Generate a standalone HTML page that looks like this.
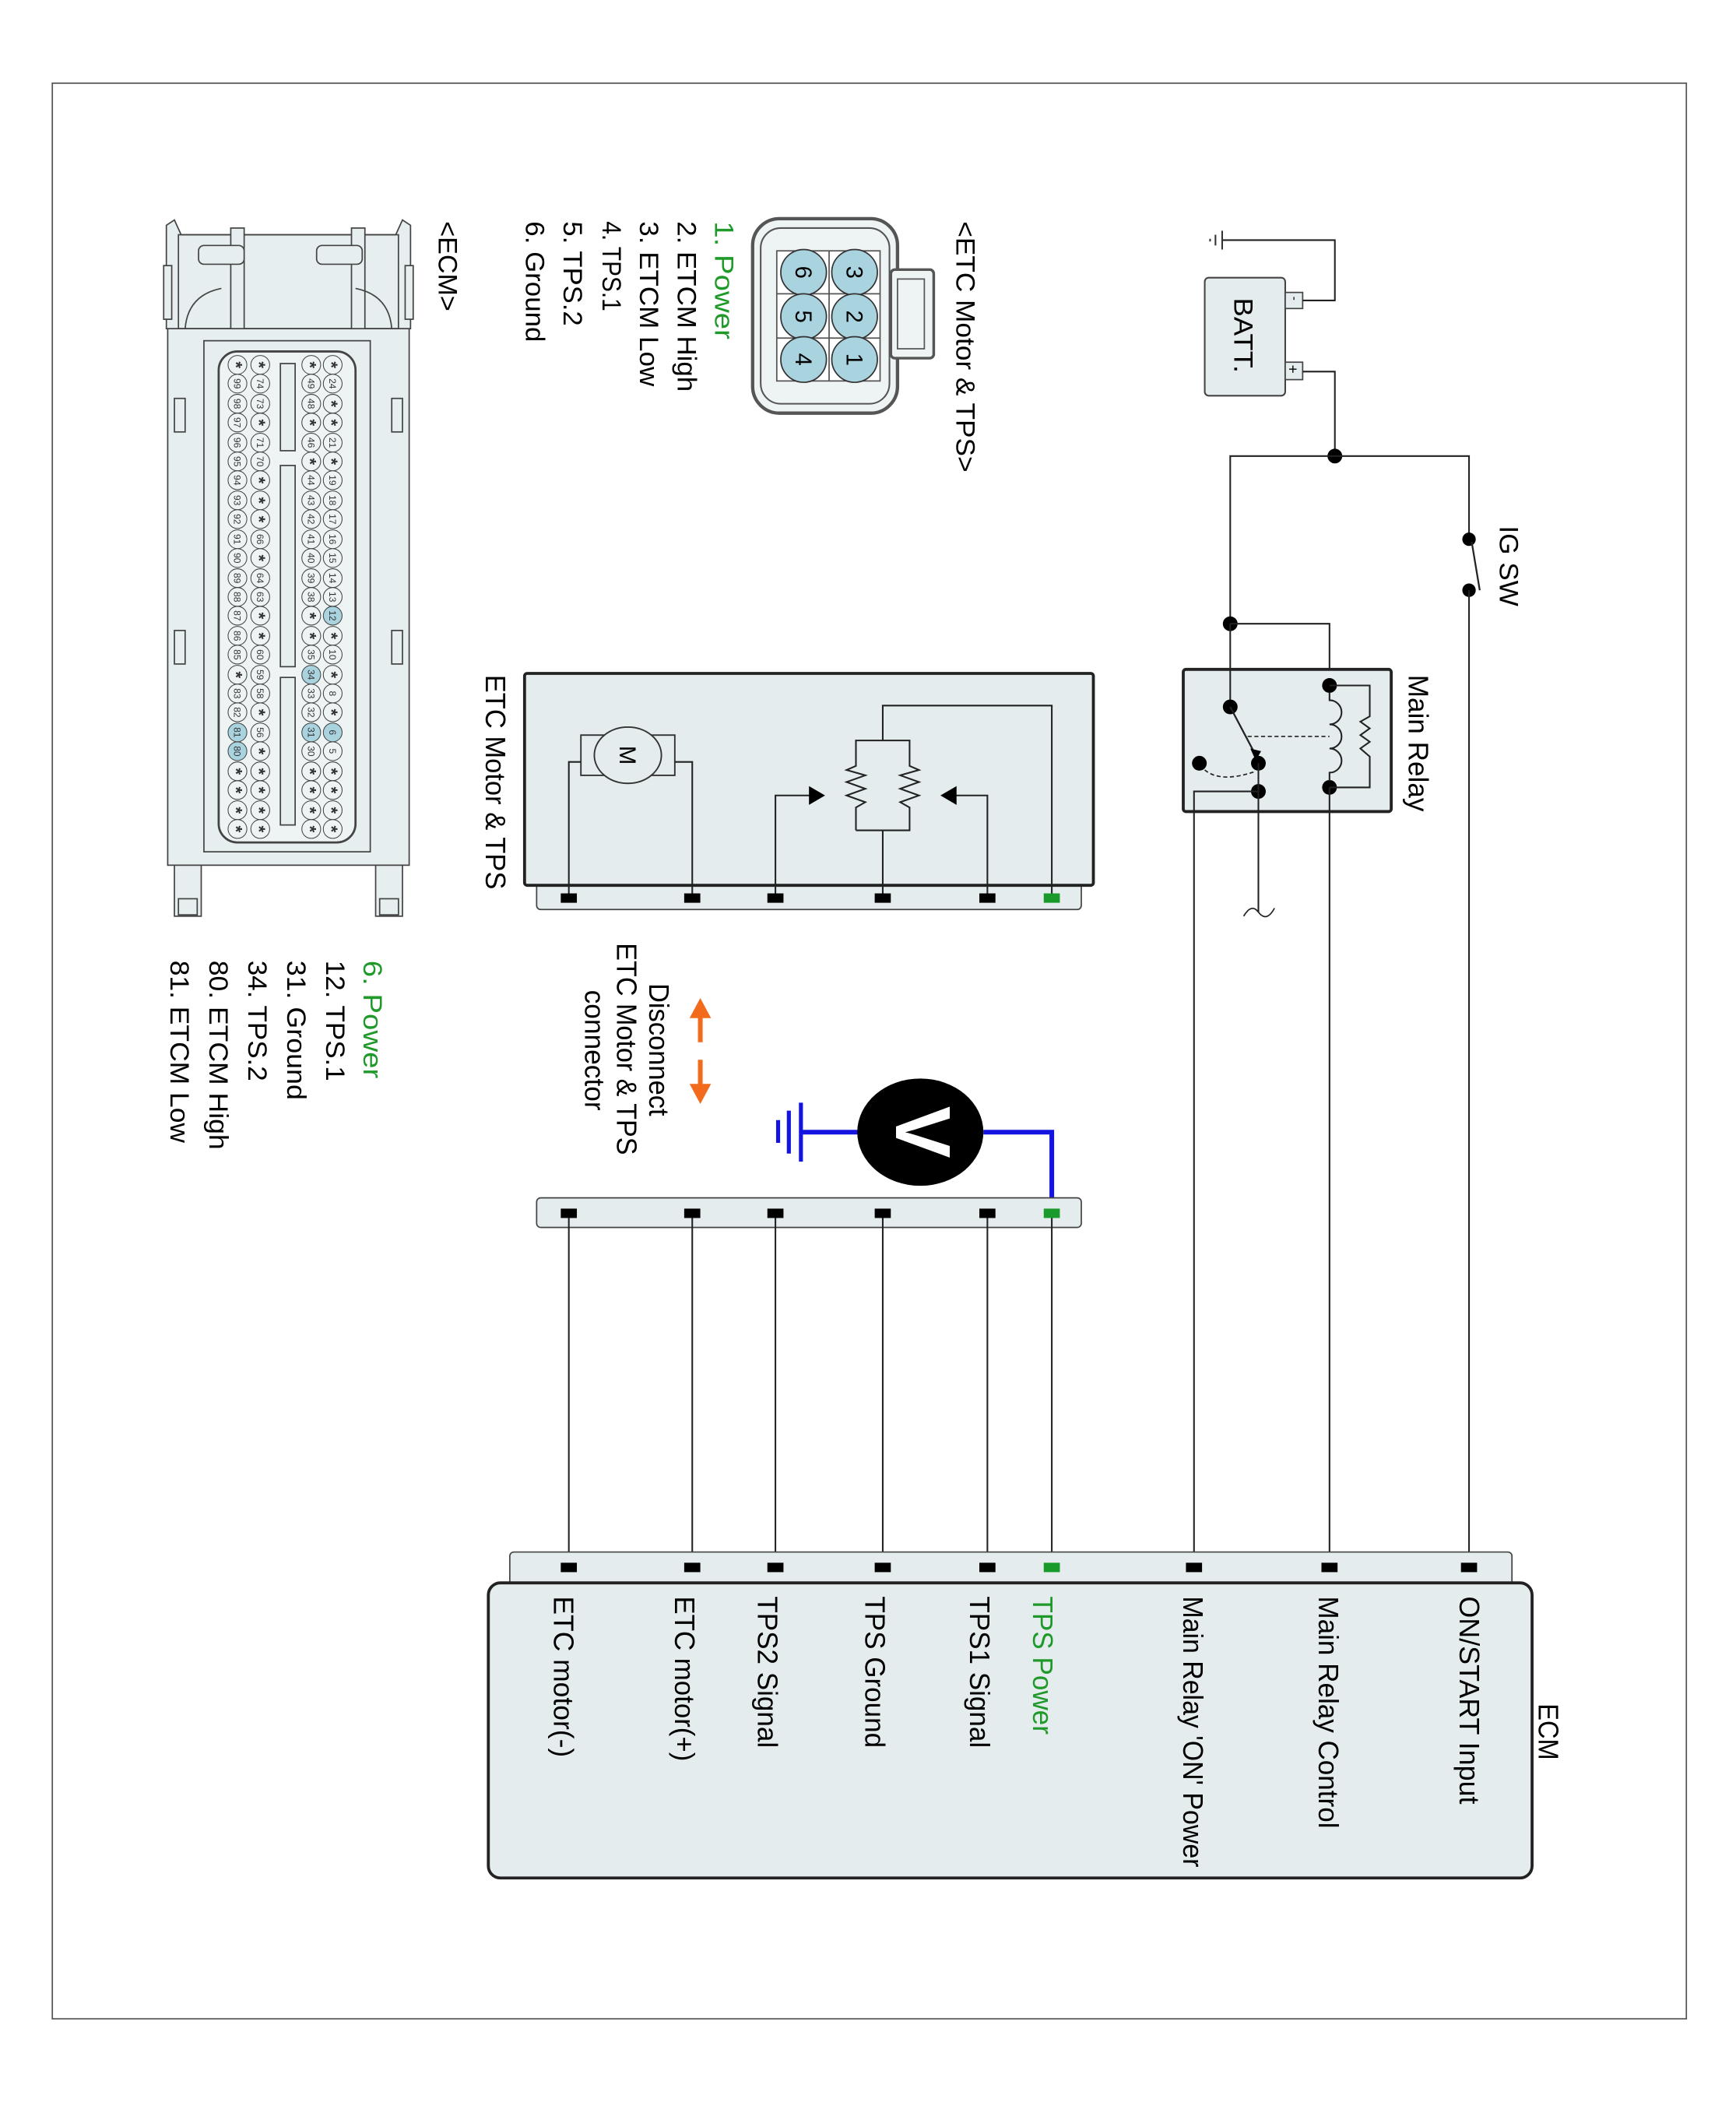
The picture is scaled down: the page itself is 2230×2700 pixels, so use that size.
<!DOCTYPE html>
<html><head><meta charset="utf-8"><style>
html,body{margin:0;padding:0;background:#fff;}
svg{display:block;}
text{font-family:"Liberation Sans",sans-serif;}
.w{stroke:#222;stroke-width:1.2;fill:none;}
.pin circle{fill:#eef3f4;stroke:#444;stroke-width:0.6;}
.pin text{font-size:7px;text-anchor:middle;fill:#333;}
.pin text.s{font-size:13px;font-weight:bold;}
.pin .b{fill:#a9d3df;}
</style></head><body>
<svg width="2230" height="2700" viewBox="0 0 1294 1567" preserveAspectRatio="none" xmlns="http://www.w3.org/2000/svg">
<rect x="0" y="0" width="1294" height="1567" fill="#fff"/>
<rect x="39" y="62" width="1218" height="1443" fill="none" stroke="#555" stroke-width="1"/>

<!-- Battery -->
<rect x="898" y="207" width="60" height="88" rx="3" fill="#e4ecee" stroke="#444" stroke-width="1.2"/>
<text transform="translate(920,222) rotate(90)" font-size="20" textLength="56" lengthAdjust="spacingAndGlyphs">BATT.</text>
<rect x="958" y="218" width="13" height="12" fill="#e4ecee" stroke="#444" stroke-width="1"/>
<text transform="translate(962,221) rotate(90)" font-size="9">-</text>
<rect x="958" y="270" width="13" height="13" fill="#e4ecee" stroke="#444" stroke-width="1"/>
<text transform="translate(960,272) rotate(90)" font-size="11">+</text>
<polyline class="w" points="971,224 995,224 995,179 911,179"/>
<line x1="911" y1="172" x2="911" y2="186" stroke="#333" stroke-width="1.2"/>
<line x1="906" y1="175" x2="906" y2="183" stroke="#333" stroke-width="1.2"/>
<line x1="902" y1="178" x2="902" y2="180" stroke="#333" stroke-width="1.2"/>
<polyline class="w" points="971,277 995,277 995,340"/>
<circle cx="995" cy="340" r="5.5" fill="#000"/>
<polyline class="w" points="917,465 917,340 1095,340 1095,402"/>
<circle cx="1095" cy="402" r="5" fill="#000"/>
<circle cx="1095" cy="440" r="5" fill="#000"/>
<line x1="1097" y1="404" x2="1103" y2="440" stroke="#222" stroke-width="1.3"/>
<line class="w" x1="1095" y1="440" x2="1095" y2="1168"/>
<text transform="translate(1118,392) rotate(90)" font-size="20" textLength="60" lengthAdjust="spacingAndGlyphs">IG SW</text>
<circle cx="917" cy="465" r="5.5" fill="#000"/>
<polyline class="w" points="917,465 991,465 991,511"/>

<!-- Relay -->
<rect x="882" y="499" width="155" height="106" fill="#e4ecee" stroke="#222" stroke-width="2.2" rx="2"/>
<text transform="translate(1050,503) rotate(90)" font-size="21" textLength="102" lengthAdjust="spacingAndGlyphs">Main Relay</text>
<line class="w" x1="917" y1="465" x2="917" y2="527"/>
<circle cx="917" cy="527" r="5.5" fill="#000"/>
<line x1="917" y1="527" x2="936" y2="563" stroke="#222" stroke-width="1.3"/>
<polygon points="932,558 940,560 936,567" fill="#000"/>
<circle cx="938" cy="569" r="5.5" fill="#000"/>
<circle cx="938" cy="590" r="5.5" fill="#000"/>
<circle cx="894" cy="569" r="5.5" fill="#000"/>
<path d="M898,574 Q910,584 936,575" fill="none" stroke="#222" stroke-width="1" stroke-dasharray="3,2"/>
<line x1="930" y1="549" x2="991" y2="549" stroke="#222" stroke-width="1" stroke-dasharray="3,2"/>
<circle cx="991" cy="511" r="5.5" fill="#000"/>
<circle cx="991" cy="587" r="5.5" fill="#000"/>
<path d="M991,516 L991,522 a9,9 0 0 1 0,18 a9,9 0 0 1 0,18 a9,9 0 0 1 0,18 L991,582" fill="none" stroke="#222" stroke-width="1.2"/>
<polyline class="w" points="991,511 1021,511 1021,534 1014,538 1021,543 1014,548 1021,553 1014,558 1021,564 1021,587 991,587"/>
<line class="w" x1="938" y1="569" x2="938" y2="680"/>
<path d="M927,683 Q933,673 938,680 Q944,688 950,677" fill="none" stroke="#222" stroke-width="1"/>
<polyline class="w" points="938,590 890,590 890,1168"/>
<line class="w" x1="991" y1="587" x2="991" y2="1168"/>

<!-- ETC connector pic -->
<rect x="561" y="163" width="108" height="145" rx="20" fill="#eef3f4" stroke="#555" stroke-width="2.5"/>
<rect x="567" y="170" width="96" height="131" rx="15" fill="none" stroke="#555" stroke-width="1.2"/>
<rect x="664" y="201" width="32" height="66" rx="3" fill="#eef3f4" stroke="#555" stroke-width="2"/>
<rect x="669" y="208" width="20" height="52" fill="none" stroke="#555" stroke-width="1"/>
<rect x="579" y="187" width="77" height="97" fill="#fff" stroke="#555" stroke-width="1"/>
<line x1="618" y1="187" x2="618" y2="284" stroke="#555"/>
<line x1="579" y1="219" x2="656" y2="219" stroke="#555"/>
<line x1="579" y1="252" x2="656" y2="252" stroke="#555"/>
<g fill="#a9d3df" stroke="#333" stroke-width="1">
<circle cx="637" cy="203" r="17"/><circle cx="637" cy="236" r="17"/><circle cx="637" cy="268" r="17"/>
<circle cx="599" cy="203" r="17"/><circle cx="599" cy="236" r="17"/><circle cx="599" cy="268" r="17"/>
</g>
<g font-size="17" text-anchor="middle">
<text transform="translate(631,203) rotate(90)">3</text><text transform="translate(631,236) rotate(90)">2</text><text transform="translate(631,268) rotate(90)">1</text>
<text transform="translate(593,203) rotate(90)">6</text><text transform="translate(593,236) rotate(90)">5</text><text transform="translate(593,268) rotate(90)">4</text>
</g>
<text transform="translate(713,165) rotate(90)" font-size="20" textLength="187" lengthAdjust="spacingAndGlyphs">&lt;ETC Motor &amp; TPS&gt;</text>
<g font-size="20">
<text transform="translate(533,165) rotate(90)" fill="#1f9a2a" textLength="88" lengthAdjust="spacingAndGlyphs">1. Power</text>
<text transform="translate(505,165) rotate(90)" textLength="127" lengthAdjust="spacingAndGlyphs">2. ETCM High</text>
<text transform="translate(477,165) rotate(90)" textLength="123" lengthAdjust="spacingAndGlyphs">3. ETCM Low</text>
<text transform="translate(449,165) rotate(90)" textLength="67" lengthAdjust="spacingAndGlyphs">4. TPS.1</text>
<text transform="translate(420,165) rotate(90)" textLength="78" lengthAdjust="spacingAndGlyphs">5. TPS.2</text>
<text transform="translate(392,165) rotate(90)" textLength="90" lengthAdjust="spacingAndGlyphs">6. Ground</text>
<text transform="translate(327,165) rotate(90)" textLength="67" lengthAdjust="spacingAndGlyphs">&lt;ECM&gt;</text>
<text transform="translate(271,716) rotate(90)" fill="#1f9a2a" textLength="88" lengthAdjust="spacingAndGlyphs">6. Power</text>
<text transform="translate(243,716) rotate(90)" textLength="90" lengthAdjust="spacingAndGlyphs">12. TPS.1</text>
<text transform="translate(214,716) rotate(90)" textLength="104" lengthAdjust="spacingAndGlyphs">31. Ground</text>
<text transform="translate(185,716) rotate(90)" textLength="90" lengthAdjust="spacingAndGlyphs">34. TPS.2</text>
<text transform="translate(156,716) rotate(90)" textLength="141" lengthAdjust="spacingAndGlyphs">80. ETCM High</text>
<text transform="translate(127,716) rotate(90)" textLength="136" lengthAdjust="spacingAndGlyphs">81. ETCM Low</text>
</g>

<!-- ECM connector drawing -->
<g stroke="#444" stroke-width="1" fill="#e6eef0">
<rect x="125" y="245" width="180" height="400"/>
<path d="M124,168 L124,245 L306,245 L306,168 L300,164 L295,175 L135,175 L130,164 Z"/>
<rect x="133" y="175" width="164" height="70" fill="none"/>
<rect x="172" y="170" width="10" height="75"/>
<rect x="262" y="170" width="10" height="75"/>
<rect x="148" y="183" width="34" height="14" rx="4"/>
<rect x="236" y="183" width="34" height="14" rx="4"/>
<path d="M138,245 Q140,220 165,215" fill="none"/>
<path d="M292,245 Q290,220 265,215" fill="none"/>
<rect x="122" y="198" width="6" height="40"/><rect x="302" y="198" width="6" height="40"/>
<rect x="152" y="254" width="124" height="381"/>
<rect x="163" y="262" width="102" height="366" rx="14" fill="#eef3f4" stroke-width="1.6"/>
<rect x="209" y="271" width="11" height="65"/>
<rect x="209" y="347" width="11" height="150"/>
<rect x="209" y="505" width="11" height="110"/>
<rect x="130" y="297" width="8" height="25"/><rect x="292" y="297" width="8" height="25"/>
<rect x="130" y="470" width="8" height="25"/><rect x="292" y="470" width="8" height="25"/>
<rect x="130" y="645" width="20" height="38"/><rect x="280" y="645" width="20" height="38"/>
<rect x="133" y="670" width="14" height="12"/><rect x="283" y="670" width="14" height="12"/>
</g>
<!-- pins columns -->
<g class="pin" transform="translate(248,0) rotate(90)">
<circle cx="272" cy="0" r="7"/><text class="s" x="272" y="5.5">*</text>
<circle cx="286" cy="0" r="7"/><text x="286" y="2.5">24</text>
<circle cx="301" cy="0" r="7"/><text class="s" x="301" y="5.5">*</text>
<circle cx="315" cy="0" r="7"/><text class="s" x="315" y="5.5">*</text>
<circle cx="330" cy="0" r="7"/><text x="330" y="2.5">21</text>
<circle cx="344" cy="0" r="7"/><text class="s" x="344" y="5.5">*</text>
<circle cx="358" cy="0" r="7"/><text x="358" y="2.5">19</text>
<circle cx="373" cy="0" r="7"/><text x="373" y="2.5">18</text>
<circle cx="387" cy="0" r="7"/><text x="387" y="2.5">17</text>
<circle cx="402" cy="0" r="7"/><text x="402" y="2.5">16</text>
<circle cx="416" cy="0" r="7"/><text x="416" y="2.5">15</text>
<circle cx="431" cy="0" r="7"/><text x="431" y="2.5">14</text>
<circle cx="445" cy="0" r="7"/><text x="445" y="2.5">13</text>
<circle cx="459" cy="0" r="7" class="b"/><text x="459" y="2.5">12</text>
<circle cx="474" cy="0" r="7"/><text class="s" x="474" y="5.5">*</text>
<circle cx="488" cy="0" r="7"/><text x="488" y="2.5">10</text>
<circle cx="503" cy="0" r="7"/><text class="s" x="503" y="5.5">*</text>
<circle cx="517" cy="0" r="7"/><text x="517" y="2.5">8</text>
<circle cx="531" cy="0" r="7"/><text class="s" x="531" y="5.5">*</text>
<circle cx="546" cy="0" r="7" class="b"/><text x="546" y="2.5">6</text>
<circle cx="560" cy="0" r="7"/><text x="560" y="2.5">5</text>
<circle cx="575" cy="0" r="7"/><text class="s" x="575" y="5.5">*</text>
<circle cx="589" cy="0" r="7"/><text class="s" x="589" y="5.5">*</text>
<circle cx="604" cy="0" r="7"/><text class="s" x="604" y="5.5">*</text>
<circle cx="618" cy="0" r="7"/><text class="s" x="618" y="5.5">*</text>
</g>
<g class="pin" transform="translate(232,0) rotate(90)">
<circle cx="272" cy="0" r="7"/><text class="s" x="272" y="5.5">*</text>
<circle cx="286" cy="0" r="7"/><text x="286" y="2.5">49</text>
<circle cx="301" cy="0" r="7"/><text x="301" y="2.5">48</text>
<circle cx="315" cy="0" r="7"/><text class="s" x="315" y="5.5">*</text>
<circle cx="330" cy="0" r="7"/><text x="330" y="2.5">46</text>
<circle cx="344" cy="0" r="7"/><text class="s" x="344" y="5.5">*</text>
<circle cx="358" cy="0" r="7"/><text x="358" y="2.5">44</text>
<circle cx="373" cy="0" r="7"/><text x="373" y="2.5">43</text>
<circle cx="387" cy="0" r="7"/><text x="387" y="2.5">42</text>
<circle cx="402" cy="0" r="7"/><text x="402" y="2.5">41</text>
<circle cx="416" cy="0" r="7"/><text x="416" y="2.5">40</text>
<circle cx="431" cy="0" r="7"/><text x="431" y="2.5">39</text>
<circle cx="445" cy="0" r="7"/><text x="445" y="2.5">38</text>
<circle cx="459" cy="0" r="7"/><text class="s" x="459" y="5.5">*</text>
<circle cx="474" cy="0" r="7"/><text class="s" x="474" y="5.5">*</text>
<circle cx="488" cy="0" r="7"/><text x="488" y="2.5">35</text>
<circle cx="503" cy="0" r="7" class="b"/><text x="503" y="2.5">34</text>
<circle cx="517" cy="0" r="7"/><text x="517" y="2.5">33</text>
<circle cx="531" cy="0" r="7"/><text x="531" y="2.5">32</text>
<circle cx="546" cy="0" r="7" class="b"/><text x="546" y="2.5">31</text>
<circle cx="560" cy="0" r="7"/><text x="560" y="2.5">30</text>
<circle cx="575" cy="0" r="7"/><text class="s" x="575" y="5.5">*</text>
<circle cx="589" cy="0" r="7"/><text class="s" x="589" y="5.5">*</text>
<circle cx="604" cy="0" r="7"/><text class="s" x="604" y="5.5">*</text>
<circle cx="618" cy="0" r="7"/><text class="s" x="618" y="5.5">*</text>
</g>
<g class="pin" transform="translate(194,0) rotate(90)">
<circle cx="272" cy="0" r="7"/><text class="s" x="272" y="5.5">*</text>
<circle cx="286" cy="0" r="7"/><text x="286" y="2.5">74</text>
<circle cx="301" cy="0" r="7"/><text x="301" y="2.5">73</text>
<circle cx="315" cy="0" r="7"/><text class="s" x="315" y="5.5">*</text>
<circle cx="330" cy="0" r="7"/><text x="330" y="2.5">71</text>
<circle cx="344" cy="0" r="7"/><text x="344" y="2.5">70</text>
<circle cx="358" cy="0" r="7"/><text class="s" x="358" y="5.5">*</text>
<circle cx="373" cy="0" r="7"/><text class="s" x="373" y="5.5">*</text>
<circle cx="387" cy="0" r="7"/><text class="s" x="387" y="5.5">*</text>
<circle cx="402" cy="0" r="7"/><text x="402" y="2.5">66</text>
<circle cx="416" cy="0" r="7"/><text class="s" x="416" y="5.5">*</text>
<circle cx="431" cy="0" r="7"/><text x="431" y="2.5">64</text>
<circle cx="445" cy="0" r="7"/><text x="445" y="2.5">63</text>
<circle cx="459" cy="0" r="7"/><text class="s" x="459" y="5.5">*</text>
<circle cx="474" cy="0" r="7"/><text class="s" x="474" y="5.5">*</text>
<circle cx="488" cy="0" r="7"/><text x="488" y="2.5">60</text>
<circle cx="503" cy="0" r="7"/><text x="503" y="2.5">59</text>
<circle cx="517" cy="0" r="7"/><text x="517" y="2.5">58</text>
<circle cx="531" cy="0" r="7"/><text class="s" x="531" y="5.5">*</text>
<circle cx="546" cy="0" r="7"/><text x="546" y="2.5">56</text>
<circle cx="560" cy="0" r="7"/><text class="s" x="560" y="5.5">*</text>
<circle cx="575" cy="0" r="7"/><text class="s" x="575" y="5.5">*</text>
<circle cx="589" cy="0" r="7"/><text class="s" x="589" y="5.5">*</text>
<circle cx="604" cy="0" r="7"/><text class="s" x="604" y="5.5">*</text>
<circle cx="618" cy="0" r="7"/><text class="s" x="618" y="5.5">*</text>
</g>
<g class="pin" transform="translate(177,0) rotate(90)">
<circle cx="272" cy="0" r="7"/><text class="s" x="272" y="5.5">*</text>
<circle cx="286" cy="0" r="7"/><text x="286" y="2.5">99</text>
<circle cx="301" cy="0" r="7"/><text x="301" y="2.5">98</text>
<circle cx="315" cy="0" r="7"/><text x="315" y="2.5">97</text>
<circle cx="330" cy="0" r="7"/><text x="330" y="2.5">96</text>
<circle cx="344" cy="0" r="7"/><text x="344" y="2.5">95</text>
<circle cx="358" cy="0" r="7"/><text x="358" y="2.5">94</text>
<circle cx="373" cy="0" r="7"/><text x="373" y="2.5">93</text>
<circle cx="387" cy="0" r="7"/><text x="387" y="2.5">92</text>
<circle cx="402" cy="0" r="7"/><text x="402" y="2.5">91</text>
<circle cx="416" cy="0" r="7"/><text x="416" y="2.5">90</text>
<circle cx="431" cy="0" r="7"/><text x="431" y="2.5">89</text>
<circle cx="445" cy="0" r="7"/><text x="445" y="2.5">88</text>
<circle cx="459" cy="0" r="7"/><text x="459" y="2.5">87</text>
<circle cx="474" cy="0" r="7"/><text x="474" y="2.5">86</text>
<circle cx="488" cy="0" r="7"/><text x="488" y="2.5">85</text>
<circle cx="503" cy="0" r="7"/><text class="s" x="503" y="5.5">*</text>
<circle cx="517" cy="0" r="7"/><text x="517" y="2.5">83</text>
<circle cx="531" cy="0" r="7"/><text x="531" y="2.5">82</text>
<circle cx="546" cy="0" r="7" class="b"/><text x="546" y="2.5">81</text>
<circle cx="560" cy="0" r="7" class="b"/><text x="560" y="2.5">80</text>
<circle cx="575" cy="0" r="7"/><text class="s" x="575" y="5.5">*</text>
<circle cx="589" cy="0" r="7"/><text class="s" x="589" y="5.5">*</text>
<circle cx="604" cy="0" r="7"/><text class="s" x="604" y="5.5">*</text>
<circle cx="618" cy="0" r="7"/><text class="s" x="618" y="5.5">*</text>
</g>

<!-- ETC Motor & TPS box -->
<rect x="400" y="655" width="406" height="23" rx="3" fill="#e4ecee" stroke="#444" stroke-width="1"/>
<rect x="391" y="502" width="424" height="158" rx="2" fill="#e4ecee" stroke="#222" stroke-width="2.2"/>
<text transform="translate(362,503) rotate(90)" font-size="21" textLength="160" lengthAdjust="spacingAndGlyphs">ETC Motor &amp; TPS</text>
<rect x="433" y="548" width="70" height="30" fill="#e4ecee" stroke="#333" stroke-width="1.1"/>
<ellipse cx="468" cy="563" rx="25" ry="21" fill="#e4ecee" stroke="#333" stroke-width="1.1"/>
<text transform="translate(462,563) rotate(90)" font-size="17" text-anchor="middle">M</text>
<polyline class="w" points="433,568 424,568 424,669"/>
<polyline class="w" points="503,568 516,568 516,669"/>
<polyline class="w" points="658,552 658,526 784,526 784,669"/>
<polyline class="w" points="658,669 658,619"/>
<polyline class="w" points="638,619 678,619 678,602 671,598 685,593 671,588 685,583 671,578 685,574 678,571 678,552 638,552 638,571 631,574 645,578 631,583 645,588 631,593 645,598 638,602 638,619"/>
<polyline class="w" points="578,669 578,593 604,593"/>
<polygon points="603,586 603,600 615,593" fill="#000"/>
<polyline class="w" points="736,669 736,593 712,593"/>
<polygon points="713,586 713,600 701,593" fill="#000"/>
<g fill="#000"><rect x="418" y="666" width="12" height="7"/><rect x="510" y="666" width="12" height="7"/><rect x="572" y="666" width="12" height="7"/><rect x="652" y="666" width="12" height="7"/><rect x="730" y="666" width="12" height="7"/></g>
<rect x="778" y="666" width="12" height="7" fill="#1a9a2a"/>

<!-- Disconnect -->
<text transform="translate(484,733) rotate(90)" font-size="21" textLength="99" lengthAdjust="spacingAndGlyphs">Disconnect</text>
<text transform="translate(460,703) rotate(90)" font-size="21" textLength="158" lengthAdjust="spacingAndGlyphs">ETC Motor &amp; TPS</text>
<text transform="translate(436,738) rotate(90)" font-size="21" textLength="90" lengthAdjust="spacingAndGlyphs">connector</text>
<line x1="522" y1="755" x2="522" y2="777" stroke="#f26a1b" stroke-width="3.5"/>
<polygon points="514,759 530,759 522,744" fill="#f26a1b"/>
<line x1="522" y1="790" x2="522" y2="812" stroke="#f26a1b" stroke-width="3.5"/>
<polygon points="514,808 530,808 522,823" fill="#f26a1b"/>

<!-- Voltmeter -->
<polyline points="733,844 784,844 784,903" fill="none" stroke="#1414e0" stroke-width="3.5"/>
<line x1="640" y1="844" x2="597" y2="844" stroke="#1414e0" stroke-width="3.5"/>
<line x1="597" y1="822" x2="597" y2="866" stroke="#1414e0" stroke-width="3"/>
<line x1="588" y1="828" x2="588" y2="860" stroke="#1414e0" stroke-width="3"/>
<line x1="580" y1="835" x2="580" y2="852" stroke="#1414e0" stroke-width="3"/>
<ellipse cx="686" cy="844" rx="47" ry="40" fill="#000"/>
<text transform="translate(668,844) rotate(90)" font-size="58" font-weight="bold" fill="#fff" text-anchor="middle">V</text>

<!-- middle strip -->
<rect x="400" y="893" width="406" height="22" rx="3" fill="#e4ecee" stroke="#444" stroke-width="1"/>
<g fill="#000"><rect x="418" y="901" width="12" height="7"/><rect x="510" y="901" width="12" height="7"/><rect x="572" y="901" width="12" height="7"/><rect x="652" y="901" width="12" height="7"/><rect x="730" y="901" width="12" height="7"/></g>
<rect x="778" y="901" width="12" height="7" fill="#1a9a2a"/>
<g class="w"><line x1="424" y1="908" x2="424" y2="1168"/><line x1="516" y1="908" x2="516" y2="1168"/><line x1="578" y1="908" x2="578" y2="1168"/><line x1="658" y1="908" x2="658" y2="1168"/><line x1="736" y1="908" x2="736" y2="1168"/><line x1="784" y1="908" x2="784" y2="1168"/></g>

<!-- ECM -->
<rect x="380" y="1157" width="747" height="28" rx="3" fill="#e4ecee" stroke="#444" stroke-width="1"/>
<rect x="364" y="1180" width="778" height="220" rx="9" fill="#e4ecee" stroke="#222" stroke-width="2.2"/>
<g fill="#000"><rect x="418" y="1165" width="12" height="7"/><rect x="510" y="1165" width="12" height="7"/><rect x="572" y="1165" width="12" height="7"/><rect x="652" y="1165" width="12" height="7"/><rect x="730" y="1165" width="12" height="7"/><rect x="884" y="1165" width="12" height="7"/><rect x="985" y="1165" width="12" height="7"/><rect x="1089" y="1165" width="12" height="7"/></g>
<rect x="778" y="1165" width="12" height="7" fill="#1a9a2a"/>
<g font-size="21">
<text transform="translate(1088,1190) rotate(90)" textLength="155" lengthAdjust="spacingAndGlyphs">ON/START Input</text>
<text transform="translate(983,1190) rotate(90)" textLength="173" lengthAdjust="spacingAndGlyphs">Main Relay Control</text>
<text transform="translate(882,1190) rotate(90)" textLength="202" lengthAdjust="spacingAndGlyphs">Main Relay 'ON' Power</text>
<text transform="translate(770,1190) rotate(90)" fill="#1f9a2a" textLength="103" lengthAdjust="spacingAndGlyphs">TPS Power</text>
<text transform="translate(723,1190) rotate(90)" textLength="113" lengthAdjust="spacingAndGlyphs">TPS1 Signal</text>
<text transform="translate(645,1190) rotate(90)" textLength="113" lengthAdjust="spacingAndGlyphs">TPS Ground</text>
<text transform="translate(565,1190) rotate(90)" textLength="113" lengthAdjust="spacingAndGlyphs">TPS2 Signal</text>
<text transform="translate(503,1190) rotate(90)" textLength="123" lengthAdjust="spacingAndGlyphs">ETC motor(+)</text>
<text transform="translate(413,1190) rotate(90)" textLength="120" lengthAdjust="spacingAndGlyphs">ETC motor(-)</text>
<text transform="translate(1147,1270) rotate(90)" textLength="42" lengthAdjust="spacingAndGlyphs">ECM</text>
</g>
</svg>
</body></html>
